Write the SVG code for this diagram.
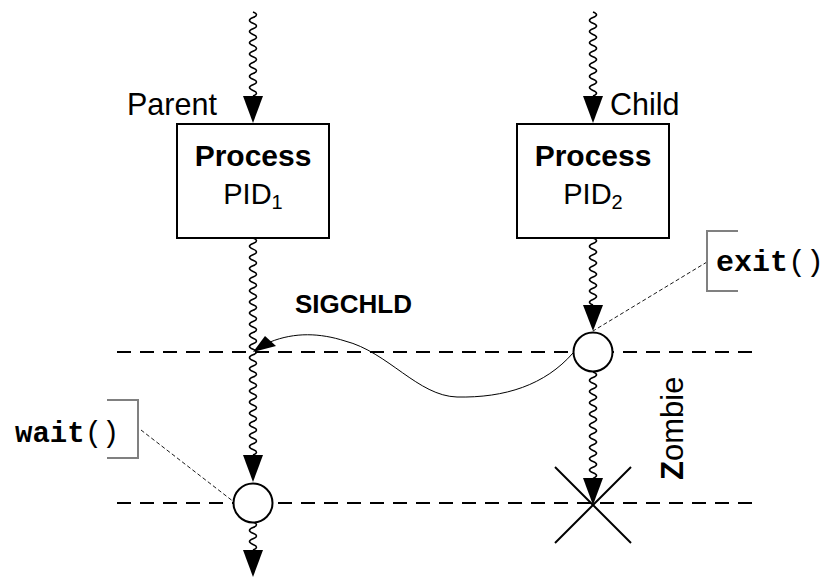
<svg xmlns="http://www.w3.org/2000/svg" width="833" height="582" viewBox="0 0 833 582">
<style>
.wave{fill:none;stroke:#000;stroke-width:1.6}
.head{fill:#000}
.box{fill:#fff;stroke:#000;stroke-width:2}
.dash{fill:none;stroke:#000;stroke-width:2;stroke-dasharray:14 9}
.thin{fill:none;stroke:#000;stroke-width:0.9;stroke-dasharray:4 2.5}
.brk{fill:none;stroke:#808080;stroke-width:2}
.sans{font-family:"Liberation Sans",Arial,sans-serif;fill:#000}
.mono{font-family:"Liberation Mono","Courier New",monospace;fill:#000}
.evt{fill:#fff;stroke:#000;stroke-width:2}
</style>
<rect width="833" height="582" fill="#fff"/>
<g id="timelines">
<line class="dash" x1="117" y1="352" x2="755" y2="352"/>
<line class="dash" x1="117" y1="503" x2="755" y2="503"/>
</g>
<g id="connectors">
<path class="wave" d="M253,12 q7,2.8 0,5.6 t0,5.6 t0,5.6 t0,5.6 t0,5.6 t0,5.6 t0,5.6 t0,5.6 t0,5.6 t0,5.6 t0,5.6 t0,5.6 t0,5.6 t0,5.6 t0,5.6"/>
<polygon class="head" points="243,96 263,96 253,123"/>
<path class="wave" d="M253,238 q7,2.782 0,5.564 t0,5.564 t0,5.564 t0,5.564 t0,5.564 t0,5.564 t0,5.564 t0,5.564 t0,5.564 t0,5.564 t0,5.564 t0,5.564 t0,5.564 t0,5.564 t0,5.564 t0,5.564 t0,5.564 t0,5.564 t0,5.564 t0,5.564 t0,5.564 t0,5.564 t0,5.564 t0,5.564 t0,5.564 t0,5.564 t0,5.564 t0,5.564 t0,5.564 t0,5.564 t0,5.564 t0,5.564 t0,5.564 t0,5.564 t0,5.564 t0,5.564 t0,5.564 t0,5.564 t0,5.564"/>
<polygon class="head" points="243,455 263,455 253,482"/>
<path class="wave" d="M253,522 q7,2.8 0,5.6 t0,5.6 t0,5.6 t0,5.6 t0,5.6"/>
<polygon class="head" points="243,550 263,550 253,577"/>
<path class="wave" d="M593,12 q7,2.8 0,5.6 t0,5.6 t0,5.6 t0,5.6 t0,5.6 t0,5.6 t0,5.6 t0,5.6 t0,5.6 t0,5.6 t0,5.6 t0,5.6 t0,5.6 t0,5.6 t0,5.6"/>
<polygon class="head" points="583,96 603,96 593,123"/>
<path class="wave" d="M593,238 q7,2.79 0,5.583 t0,5.583 t0,5.583 t0,5.583 t0,5.583 t0,5.583 t0,5.583 t0,5.583 t0,5.583 t0,5.583 t0,5.583 t0,5.583"/>
<polygon class="head" points="583,305 603,305 593,331"/>
<path class="wave" d="M593,372 q7,2.8 0,5.6 t0,5.6 t0,5.6 t0,5.6 t0,5.6 t0,5.6 t0,5.6 t0,5.6 t0,5.6 t0,5.6 t0,5.6 t0,5.6 t0,5.6 t0,5.6 t0,5.6 t0,5.6 t0,5.6 t0,5.6 t0,5.6"/>
<polygon class="head" points="583,478 603,478 593,505"/>
<path d="M573,353 C545,385 505,398 457,397 C418,396 388,352 345,341 C320,333 295,332 270,342" fill="none" stroke="#000" stroke-width="1"/>
<polygon class="head" points="253,352 265,336 276,346"/>
<path class="thin" d="M707,262 L593,331"/>
<path class="thin" d="M141,430 L234,502"/>
</g>
<g id="parent">
<text class="sans" x="127" y="115" font-size="30.5">Parent</text>
<rect class="box" x="177" y="124" width="152" height="114"/>
<text class="sans" x="253" y="166" font-size="30" font-weight="bold" text-anchor="middle">Process</text>
<text class="sans" x="253" y="204" font-size="29" text-anchor="middle">PID<tspan font-size="20" dy="5">1</tspan></text>
</g>
<g id="child">
<text class="sans" x="610" y="115" font-size="30.5">Child</text>
<rect class="box" x="517" y="124" width="152" height="114"/>
<text class="sans" x="593" y="166" font-size="30" font-weight="bold" text-anchor="middle">Process</text>
<text class="sans" x="593" y="204" font-size="29" text-anchor="middle">PID<tspan font-size="20" dy="5">2</tspan></text>
</g>
<g id="exit-event">
<circle class="evt" cx="593" cy="352" r="19.5"/>
<path class="brk" d="M738,231 H707 V291 H738"/>
<text class="mono" x="716" y="271" font-size="30"><tspan font-weight="bold">exit</tspan>()</text>
</g>
<g id="wait-event">
<circle class="evt" cx="253" cy="503" r="19.5"/>
<path class="brk" d="M107,400 H138 V458 H107"/>
<text class="mono" x="15" y="442" font-size="29"><tspan font-weight="bold">wait</tspan>()</text>
</g>
<g id="sigchld">
<text class="sans" x="295" y="313" font-size="26" font-weight="bold">SIGCHLD</text>
</g>
<g id="zombie">
<text class="sans" font-size="31" transform="translate(683,480) rotate(-90)"><tspan font-weight="bold">Z</tspan>ombie</text>
<line x1="555" y1="467" x2="631" y2="543" stroke="#000" stroke-width="2"/>
<line x1="631" y1="467" x2="555" y2="543" stroke="#000" stroke-width="2"/>
</g>
</svg>
